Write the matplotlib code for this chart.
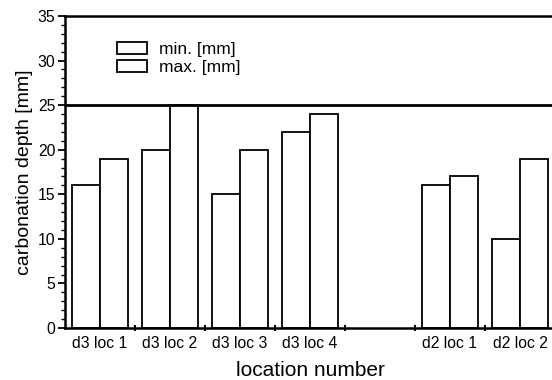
import numpy as np
import matplotlib.pyplot as plt
from matplotlib.ticker import MultipleLocator, FixedLocator

plt.rcParams['font.family'] = ['Liberation Sans', 'DejaVu Sans']

locations = ["d3 loc 1", "d3 loc 2", "d3 loc 3", "d3 loc 4", "", "d2 loc 1", "d2 loc 2"]
min_depth = [16, 20, 15, 22, np.nan, 16, 10]
max_depth = [19, 25, 20, 24, np.nan, 17, 19]

x = np.arange(1, len(locations) + 1)
w = 0.4

fig = plt.figure(figsize=(5.52, 3.80), dpi=100)
ax = fig.add_axes([65 / 552, 52 / 380, 490 / 552, 312 / 380])

ax.bar(x - w / 2, min_depth, w, facecolor="white", edgecolor="black", linewidth=1.3, label="min. [mm]")
ax.bar(x + w / 2, max_depth, w, facecolor="white", edgecolor="black", linewidth=1.3, label="max. [mm]")

ax.axhline(25, color="black", linewidth=2.0)

ax.set_xlim(0.5, 7.5)
ax.set_ylim(0, 35)
ax.set_xticks(x)
ax.set_xticklabels(locations)
ax.xaxis.set_minor_locator(FixedLocator(np.arange(1.5, 7.5, 1)))
ax.yaxis.set_major_locator(MultipleLocator(5))
ax.yaxis.set_minor_locator(MultipleLocator(1))

ax.tick_params(axis="x", which="major", length=0, labelsize=11.3, pad=6)
ax.tick_params(axis="x", which="minor", length=4, width=1.5, direction="inout")
ax.tick_params(axis="y", which="major", length=5, width=1.3, labelsize=11.3, pad=2)
ax.tick_params(axis="y", which="minor", length=3, width=1.0)

for side in ["top", "left", "bottom", "right"]:
    ax.spines[side].set_linewidth(1.8)

ax.set_xlabel("location number", fontsize=15, labelpad=7)
ax.set_ylabel("carbonation depth [mm]", fontsize=14, labelpad=3)

ax.legend(loc="upper left", bbox_to_anchor=(0.092, 0.94), frameon=False, fontsize=12.5,
          handlelength=1.7, handleheight=0.75, labelspacing=0.15, handletextpad=0.7,
          borderaxespad=0.0)

fig.savefig("out.png", dpi=100)
